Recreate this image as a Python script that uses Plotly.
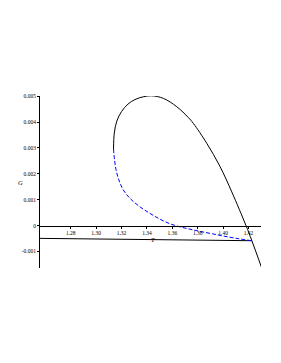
import plotly.graph_objects as go

# Upper black branch of G(T)
upper_T = [1.3137, 1.3143, 1.3163, 1.3200, 1.3251, 1.3306, 1.3372, 1.3436, 1.3529, 1.3635,
           1.3726, 1.3765, 1.3871, 1.3976, 1.4068, 1.4180, 1.4225, 1.4304]
upper_G = [0.002961, 0.003579, 0.004042, 0.004409, 0.004699, 0.004873, 0.004981, 0.005019,
           0.004919, 0.004595, 0.004178, 0.003954, 0.003181, 0.002278, 0.001301, 0.0,
           -0.000571, -0.001645]

# Blue dashed (intermediate) branch
mid_T = [1.3137, 1.3145, 1.3157, 1.3179, 1.3214, 1.3267, 1.3346, 1.3424, 1.3503, 1.3582,
         1.3661, 1.3739, 1.3818, 1.3913, 1.4007, 1.4118, 1.4225]
mid_G = [0.002961, 0.002537, 0.002151, 0.001764, 0.001378, 0.001050, 0.000722, 0.000471,
         0.000247, 0.000069, -0.000050, -0.000139, -0.000224, -0.000317, -0.000409,
         -0.000505, -0.000585]

# Lower black branch
low_T = [1.2558, 1.3400, 1.4225]
low_G = [-0.000494, -0.000530, -0.000585]

x_ticks = [1.28, 1.30, 1.32, 1.34, 1.36, 1.38, 1.40, 1.42]
x_labels = ["1.28", "1.30", "1.32", "1.34", "1.36", "1.38", "1.40", "1.42"]
y_ticks = [0.005, 0.004, 0.003, 0.002, 0.001, 0.0, -0.001]
y_labels = ["0.005", "0.004", "0.003", "0.002", "0.001", "0", "-0.001"]

xr = [1.2558, 1.4298]
yr = [-0.00164, 0.00501]

fig = go.Figure()
fig.add_trace(go.Scatter(x=low_T, y=low_G, mode="lines",
                         line=dict(color="black", width=1), hoverinfo="skip"))
fig.add_trace(go.Scatter(x=mid_T, y=mid_G, mode="lines", line_shape="spline",
                         line=dict(color="#0000ff", width=1, dash="4px,2px", smoothing=1),
                         hoverinfo="skip"))
fig.add_trace(go.Scatter(x=upper_T, y=upper_G, mode="lines", line_shape="spline",
                         line=dict(color="black", width=1, smoothing=1), hoverinfo="skip"))

font = dict(family="Liberation Serif", size=5.5, color="black")
ypos = (0 - yr[0]) / (yr[1] - yr[0])

fig.update_layout(
    width=273, height=355,
    margin=dict(l=32, r=20, t=88, b=94.7),
    paper_bgcolor="white", plot_bgcolor="white",
    showlegend=False,
    font=font,
    xaxis=dict(range=xr, anchor="free", position=ypos, showline=True, linecolor="black",
               linewidth=1, showgrid=False, zeroline=False, ticks="outside", ticklen=2,
               tickcolor="black", tickwidth=0.6, tickvals=x_ticks, ticktext=x_labels,
               tickfont=font, fixedrange=True),
    yaxis=dict(range=yr, showline=True, linecolor="black", linewidth=1, showgrid=False,
               zeroline=False, ticks="outside", ticklen=2, tickcolor="black", tickwidth=0.6,
               tickvals=y_ticks, ticktext=y_labels, tickfont=font, fixedrange=True),
    annotations=[
        dict(text="<i>T</i>", x=1.3446, y=-0.00053, xref="x", yref="y", showarrow=False,
             font=dict(family="Liberation Serif", size=6.5, color="black")),
        dict(text="<i>G</i>", x=(15.7 - 40) / 221, y=(268.3 - 182.7) / 172.3,
             xref="paper", yref="paper", showarrow=False,
             font=dict(family="Liberation Serif", size=6.5, color="black")),
    ],
)

fig.write_html("out.html")
